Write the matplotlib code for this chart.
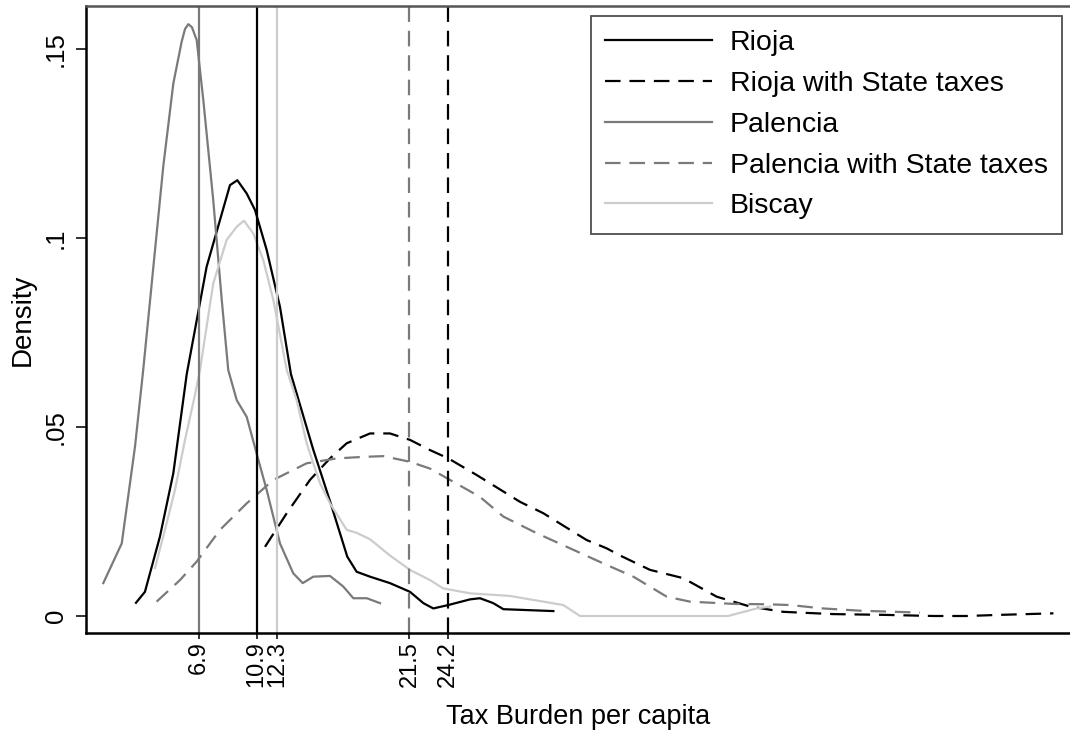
import matplotlib
matplotlib.use("Agg")
import matplotlib.pyplot as plt

plt.rcParams['font.family'] = ['Liberation Sans', 'DejaVu Sans']

# densidades (impuesto per capita vs densidad)
rioja_x = [2.53, 3.15, 4.19, 5.12, 6.05, 7.43, 9.05, 9.56, 10.21, 10.79, 11.60, 12.52, 13.28,
           14.83, 15.99, 17.19, 17.84, 18.77, 20.15, 21.54, 22.47, 23.16, 24.20, 25.71, 26.40,
           27.32, 28.02, 29.41, 31.49]
rioja_y = [.0035, .0064, .021, .0378, .064, .0924, .114, .1153, .1118, .1074, .0968, .0818, .064,
           .044, .0304, .0157, .0117, .0104, .0087, .0064, .0034, .002, .0029, .0044, .0047,
           .0034, .0018, .0016, .0013]

rioja_st_x = [11.48, 12.99, 14.60, 15.99, 17.15, 18.77, 20.15, 21.54, 22.93, 24.20, 26.17, 29.18,
              30.79, 32.65, 33.80, 35.19, 36.12, 38.20, 40.51, 42.83, 45.14, 47.45, 50.92, 54.39,
              57.86, 60.17, 62.49, 66.19]
rioja_st_y = [.0183, .0272, .036, .0417, .0457, .0483, .0483, .0466, .0439, .0417, .0373, .0302,
              .0272, .0228, .0201, .0179, .016, .0122, .010, .0051, .0025, .0011, .0005, .0003,
              0, 0, .0003, .0007]

palencia_x = [0.26, 1.54, 2.46, 3.03, 4.42, 5.12, 5.70, 5.93, 6.16, 6.41, 6.74, 7.20, 7.89, 8.48,
              8.93, 9.52, 10.21, 10.90, 11.60, 12.52, 13.44, 14.10, 14.83, 15.99, 16.91, 17.61,
              18.54, 19.46]
palencia_y = [.0087, .0192, .0448, .0651, .1189, .1409, .1520, .1553, .1566, .1558, .1524, .1365,
              .110, .0836, .0651, .0571, .0527, .043, .0333, .0192, .0113, .0087, .0104, .0106,
              .0078, .0047, .0047, .0034]

palencia_st_x = [3.96, 5.58, 6.74, 8.36, 10.21, 12.06, 14.37, 16.46, 18.30, 19.69, 21.54, 22.93,
                 24.32, 26.40, 28.02, 30.34, 32.65, 34.96, 37.04, 39.36, 40.97, 43.98, 46.30,
                 47.91, 50.20, 52.77, 56.93]
palencia_st_y = [.0038, .0095, .0144, .0228, .0298, .036, .0404, .0417, .0421, .0423, .0408, .039,
                 .036, .0315, .0263, .0219, .0179, .0139, .0104, .0051, .0038, .0032, .0031,
                 .0029, .002, .0014, .0009]

biscay_x = [3.85, 4.54, 5.23, 5.93, 6.62, 6.97, 7.89, 8.82, 9.52, 10.02, 10.67, 11.36, 12.06,
            12.99, 13.68, 14.37, 15.30, 15.99, 17.15, 17.84, 18.77, 20.15, 21.54, 22.93, 23.85,
            25.71, 28.48, 30.79, 32.18, 33.34, 43.61, 45.60, 46.53]
biscay_y = [.0127, .0228, .0333, .0466, .0585, .0651, .088, .0995, .103, .1046, .1012, .0942,
            .0836, .0651, .0571, .0457, .0351, .0298, .0228, .022, .0203, .016, .0122, .0095,
            .0073, .006, .0053, .0038, .0029, 0, 0, .002, .0025]

# medias
medias = [6.9, 10.9, 12.3, 21.5, 24.2]
labels = ["Rioja", "Rioja with State taxes", "Palencia", "Palencia with State taxes", "Biscay"]

negro = "black"
gris = "#7a7a7a"
claro = "#cccccc"
dash = (0, (7, 4))

fig = plt.figure(figsize=(10.7, 7.38), dpi=100)
ax = fig.add_axes([86/1070, 1-633/738, (1070-86)/1070, (633-6)/738])

ax.plot(rioja_x, rioja_y, color=negro, lw=1.6, label=labels[0])
ax.plot(rioja_st_x, rioja_st_y, color=negro, lw=1.6, ls=dash, label=labels[1])
ax.plot(palencia_x, palencia_y, color=gris, lw=1.6, label=labels[2])
ax.plot(palencia_st_x, palencia_st_y, color=gris, lw=1.6, ls=dash, label=labels[3])
ax.plot(biscay_x, biscay_y, color=claro, lw=1.6, label=labels[4])

# lineas verticales de las medias
ax.axvline(medias[0], color=gris, lw=1.6)
ax.axvline(medias[1], color=negro, lw=1.6)
ax.axvline(medias[2], color=claro, lw=1.6)
ax.axvline(medias[3], color=gris, lw=1.6, ls=dash)
ax.axvline(medias[4], color=negro, lw=1.6, ls=dash)

ax.set_xlim(-0.94, 67.34)
ax.set_ylim(-0.0045, 0.1614)
ax.set_xticks(medias)
ax.set_xticklabels([str(m) for m in medias], rotation=90)
ax.set_yticks([0, 0.05, 0.1, 0.15])
ax.set_yticklabels(["0", ".05", ".1", ".15"], rotation=90, va="center")
ax.tick_params(axis="x", labelsize=17, length=4, width=1.3, color="#222222", pad=2)
ax.tick_params(axis="y", labelsize=18.5, length=7, width=1.3, color="#222222", pad=6)

ax.spines["right"].set_visible(False)
for s in ["left", "bottom"]:
    ax.spines[s].set_linewidth(1.8)
    ax.spines[s].set_color("black")
ax.spines["top"].set_linewidth(1.8)
ax.spines["top"].set_color("#555555")

ax.set_xlabel("Tax Burden per capita", fontsize=19.5, labelpad=12)
ax.set_ylabel("Density", fontsize=20, labelpad=6)

leg = ax.legend(loc="upper left", bbox_to_anchor=(591/1070, 1-16/738), bbox_transform=fig.transFigure,
                fontsize=20.5, frameon=True, fancybox=False, handlelength=3.75, handletextpad=0.63,
                labelspacing=0.52, borderpad=0.5, borderaxespad=0)
leg.get_frame().set_edgecolor("#222222")
leg.get_frame().set_linewidth(1.3)

fig.savefig("out.png", dpi=100)
plt.close()
